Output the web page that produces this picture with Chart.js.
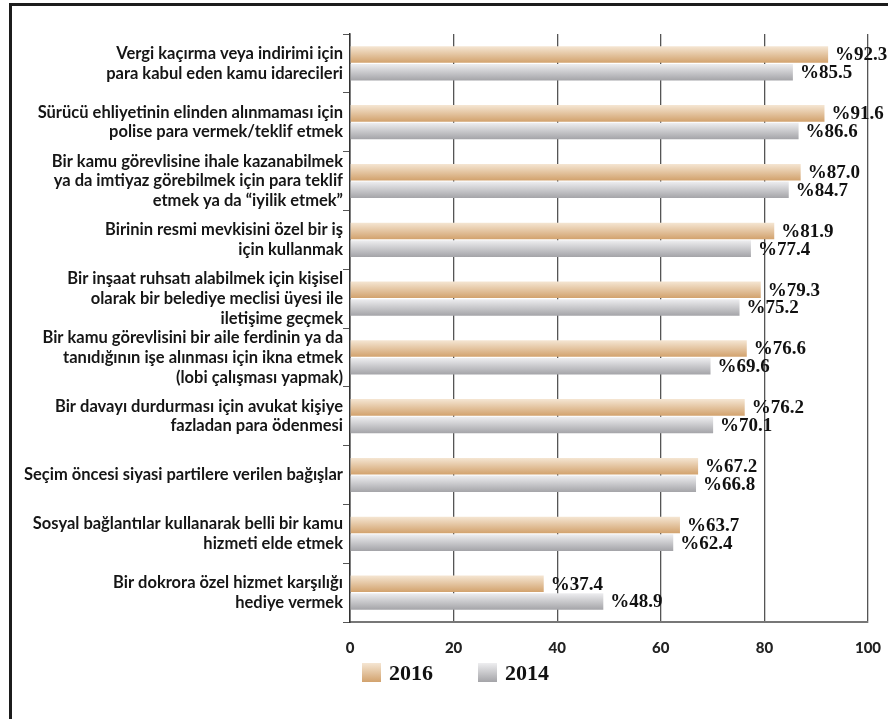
<!DOCTYPE html>
<html lang="tr">
<head>
<meta charset="utf-8">
<title>Rüşvet algısı 2016 - 2014</title>
<script src="https://cdn.jsdelivr.net/npm/chart.js@4.4.1/dist/chart.umd.min.js"></script>
<style>
    html, body { margin: 0; padding: 0; background: #fff; }
    #wrap { position: relative; width: 888px; height: 719px; overflow: hidden; }
    #frame { position: absolute; left: 9px; top: 3px; width: 900px; height: 800px;
             border-top: 3px solid #1c1c1c; border-left: 3px solid #1c1c1c; }
    #myChart { position: absolute; left: 0; top: 0; }
</style>
</head>
<body>
<div id="wrap">
    <div id="frame"></div>
    <canvas id="myChart" width="888" height="719"></canvas>
</div>
<script>
var categories = [
    ['Vergi kaçırma veya indirimi için', 'para kabul eden kamu idarecileri'],
    ['Sürücü ehliyetinin elinden alınmaması için', 'polise para vermek/teklif etmek'],
    ['Bir kamu görevlisine ihale kazanabilmek', 'ya da imtiyaz görebilmek için para teklif', 'etmek ya da “iyilik etmek”'],
    ['Birinin resmi mevkisini özel bir iş', 'için kullanmak'],
    ['Bir inşaat ruhsatı alabilmek için kişisel', 'olarak bir belediye meclisi üyesi ile', 'iletişime geçmek'],
    ['Bir kamu görevlisini bir aile ferdinin ya da', 'tanıdığının işe alınması için ikna etmek', '(lobi çalışması yapmak)'],
    ['Bir davayı durdurması için avukat kişiye', 'fazladan para ödenmesi'],
    ['Seçim öncesi siyasi partilere verilen bağışlar'],
    ['Sosyal bağlantılar kullanarak belli bir kamu', 'hizmeti elde etmek'],
    ['Bir dokrora özel hizmet karşılığı', 'hediye vermek']
];
var values2016 = [92.3, 91.6, 87.0, 81.9, 79.3, 76.6, 76.2, 67.2, 63.7, 37.4];
var values2014 = [85.5, 86.6, 84.7, 77.4, 75.2, 69.6, 70.1, 66.8, 62.4, 48.9];
var seriesNames = ['2016', '2014'];
var xTicks = [0, 20, 40, 60, 80, 100];

// light top -> darker bottom
var tanColors = ['#f5e6d3', '#d2a26d'];
var grayColors = ['#eeeef0', '#a4a4a8'];

function barGradient(cols) {
    return function(c) {
        var el = c.element;
        if (!el || el.y === undefined || !el.height) return cols[1];
        var g = c.chart.ctx.createLinearGradient(0, el.y - el.height / 2, 0, el.y + el.height / 2);
        g.addColorStop(0, cols[0]);
        g.addColorStop(1, cols[1]);
        return g;
    };
}

var valueLabels = {
    id: 'valueLabels',
    afterDatasetsDraw: function(chart) {
        var ctx = chart.ctx;
        ctx.save();
        ctx.font = 'bold 19px "Liberation Serif"';
        ctx.fillStyle = '#111';
        ctx.textAlign = 'left';
        ctx.textBaseline = 'middle';
        chart.data.datasets.forEach(function(ds, i) {
            chart.getDatasetMeta(i).data.forEach(function(bar, j) {
                ctx.fillText('%' + ds.data[j].toFixed(1), bar.x + 7, bar.y + 1);
            });
        });
        ctx.restore();
    }
};

var yearLegend = {
    id: 'yearLegend',
    afterDraw: function(chart) {
        var ctx = chart.ctx, area = chart.chartArea;
        var x = area.left + 12, y = area.bottom + 41, box = 19;
        ctx.save();
        ctx.font = 'bold 22px "Liberation Serif"';
        ctx.textBaseline = 'middle';
        ctx.textAlign = 'left';
        chart.data.datasets.forEach(function(ds) {
            var g = ctx.createLinearGradient(0, y, 0, y + box);
            g.addColorStop(0, ds.gradColors[0]);
            g.addColorStop(1, ds.gradColors[1]);
            ctx.fillStyle = g;
            ctx.fillRect(x, y, box, box);
            ctx.fillStyle = '#111';
            ctx.fillText(ds.label, x + box + 8, y + box / 2 + 2);
            x += box + 8 + ctx.measureText(ds.label).width + 45;
        });
        ctx.restore();
    }
};

document.addEventListener('DOMContentLoaded', function() {
    var ctx = document.getElementById('myChart').getContext('2d');
    var myChart = new Chart(ctx, {
        type: 'bar',
        data: {
            labels: categories,
            datasets: [{
                label: seriesNames[0],
                data: values2016,
                gradColors: tanColors,
                backgroundColor: barGradient(tanColors)
            }, {
                label: seriesNames[1],
                data: values2014,
                gradColors: grayColors,
                backgroundColor: barGradient(grayColors)
            }]
        },
        options: {
            indexAxis: 'y',
            responsive: false,
            animation: false,
            categoryPercentage: 0.6,
            barPercentage: 0.94,
            layout: { padding: { top: 34, right: 20, bottom: 57, left: 0 } },
            plugins: {
                legend: { display: false },
                tooltip: { enabled: false }
            },
            scales: {
                x: {
                    min: 0,
                    max: 100,
                    afterFit: function(s) {
                        s.height = 40;
                        s.paddingLeft = 0;
                        s.paddingRight = 0;
                    },
                    afterBuildTicks: function(s) {
                        s.ticks = xTicks.map(function(v) { return { value: v }; });
                    },
                    grid: { color: '#555', lineWidth: 1.3, drawTicks: false },
                    border: { color: '#777', width: 2 },
                    ticks: { padding: 17, color: '#222', font: { family: 'Lato', weight: 900, size: 15 } }
                },
                y: {
                    afterFit: function(s) { s.width = 350; },
                    grid: { drawOnChartArea: false, offset: true, tickLength: 7, color: '#555', lineWidth: 1 },
                    border: { color: '#333', width: 1.5 },
                    ticks: {
                        autoSkip: false,
                        padding: 0,
                        color: '#161616',
                        font: { family: 'Lato', weight: 'bold', size: 16.5, lineHeight: 1.2 }
                    }
                }
            }
        },
        plugins: [valueLabels, yearLegend]
    });
    // second pass so every bar gets its own gradient
    myChart.update('none');
});
</script>
</body>
</html>
